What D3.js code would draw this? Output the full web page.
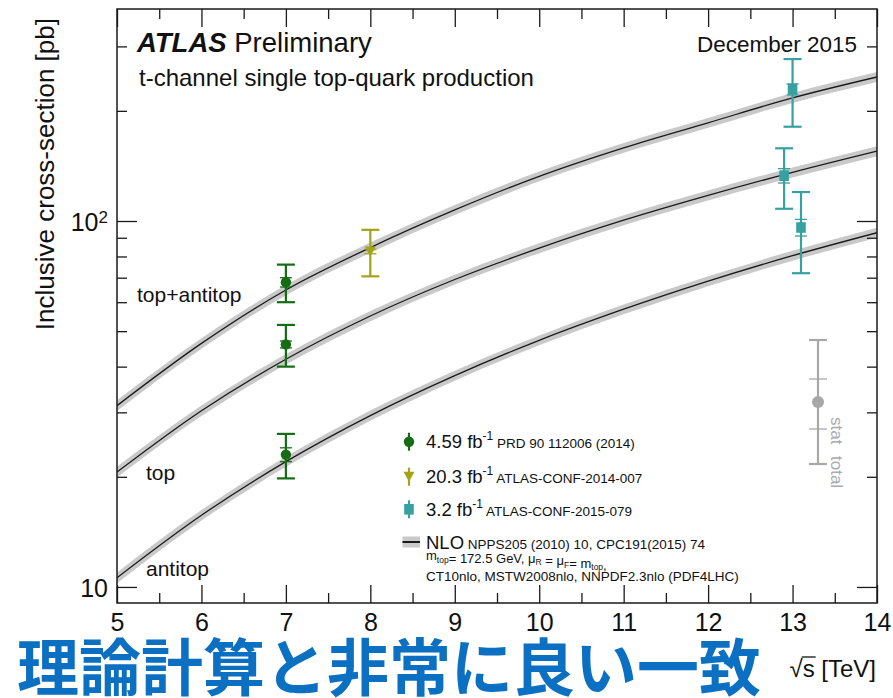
<!DOCTYPE html>
<html><head><meta charset="utf-8">
<script src="https://cdn.jsdelivr.net/npm/d3@7"></script>
<style>
body{margin:0;background:#fff}
svg text{font-family:"Liberation Sans",Arial,Helvetica,sans-serif;fill:#111}
</style></head><body>
<svg id="c" width="893" height="698"></svg>
<script>
// NLO t-channel predictions vs centre-of-mass energy (pb)
const sqrtS = [5, 6, 7, 8, 9, 10, 11, 12, 13, 14];
const nloTopAntitop = [31.3, 46.3, 64.8, 84.6, 107.2, 132.5, 158.5, 185.5, 217.0, 247.5];
const nloTop = [20.6, 30.3, 41.9, 55.0, 69.2, 84.3, 100.5, 117.5, 135.8, 155.2];
const nloAntitop = [10.6, 15.7, 22.0, 29.4, 37.8, 47.2, 57.4, 68.5, 80.4, 92.9];
const nloRelUnc = [0.034, 0.033, 0.032, 0.032, 0.031, 0.031, 0.031, 0.031, 0.031, 0.031];
const curveNames = ["top+antitop", "top", "antitop"];

// ATLAS measurements
const pointEnergy = [7, 7, 7, 8, 13, 12.9, 13.1];
const pointXsec = [68, 46, 23, 82.6, 229, 133, 96];
const pointStat = [2, 1, 1, 1.2, 8, 6, 5];
const pointTotal = [8, 6, 3.2, 12, 48, 25, 24];
const pointDataset = [0, 0, 0, 1, 2, 2, 2];

const datasetLumi = ["4.59", "20.3", " 3.2"];
const datasetRef = ["PRD 90 112006 (2014)", "ATLAS-CONF-2014-007", "ATLAS-CONF-2015-079"];
const datasetColor = ["#146c14", "#a3a31a", "#37a0a0"];
const datasetShape = ["circle", "triangle", "square"];

const xMajorTicks = [5, 6, 7, 8, 9, 10, 11, 12, 13, 14];
const xMinorTicks = [5.5, 6.5, 7.5, 8.5, 9.5, 10.5, 11.5, 12.5, 13.5];
const yMajorTicks = [10, 100];
const yMinorTicks = [20, 30, 40, 50, 60, 70, 80, 90, 200, 300];

const L = 117, R = 877, T = 9, B = 603;
const svg = d3.select("#c");
svg.append("rect").attr("width", 893).attr("height", 698).attr("fill", "#fff");

const x = d3.scaleLinear().domain([5, 14]).range([L, R]);
const y = d3.scaleLog().domain([9.04, 379.6]).range([B, T]);

const plot = svg.append("g");
plot.append("clipPath").attr("id", "clip").append("rect")
  .attr("x", L).attr("y", T).attr("width", R - L).attr("height", B - T);
const inner = plot.append("g").attr("clip-path", "url(#clip)");

// theory bands and central lines
[nloTopAntitop, nloTop, nloAntitop].forEach(vals => {
  const pts = sqrtS.map((s, i) => ({s, v: vals[i], u: nloRelUnc[i]}));
  inner.append("path").datum(pts)
    .attr("d", d3.area().x(d => x(d.s)).y0(d => y(d.v * (1 - d.u))).y1(d => y(d.v * (1 + d.u))).curve(d3.curveMonotoneX))
    .attr("fill", "#c9c9c9");
  inner.append("path").datum(pts)
    .attr("d", d3.line().x(d => x(d.s)).y(d => y(d.v)).curve(d3.curveMonotoneX))
    .attr("fill", "none").attr("stroke", "#1a1a1a").attr("stroke-width", 1.3);
});

// axes with inward ticks
const axisStyle = g => {
  g.selectAll(".domain").remove();
  g.selectAll("line").attr("stroke", "#1a1a1a").attr("stroke-width", 1.3);
  g.selectAll("text").attr("font-size", 25).attr("fill", "#111")
    .attr("font-family", "Liberation Sans, Arial, sans-serif");
};
svg.append("g").attr("transform", `translate(0,${B})`)
  .call(d3.axisBottom(x).tickValues(xMajorTicks).tickSize(-18).tickPadding(10).tickFormat(d3.format("d"))).call(axisStyle);
svg.append("g").attr("transform", `translate(0,${B})`)
  .call(d3.axisBottom(x).tickValues(xMinorTicks).tickSize(-10).tickFormat("")).call(axisStyle);
svg.append("g").attr("transform", `translate(0,${T})`)
  .call(d3.axisTop(x).tickValues(xMajorTicks).tickSize(-18).tickFormat("")).call(axisStyle);
svg.append("g").attr("transform", `translate(0,${T})`)
  .call(d3.axisTop(x).tickValues(xMinorTicks).tickSize(-10).tickFormat("")).call(axisStyle);

const yl = svg.append("g").attr("transform", `translate(${L},0)`)
  .call(d3.axisLeft(y).tickValues(yMajorTicks).tickSize(-20).tickPadding(9).tickFormat(() => "10")).call(axisStyle);
yl.selectAll("text").attr("dy", "0.38em");
yl.selectAll(".tick").filter(d => d === 100).select("text")
  .append("tspan").attr("dy", "-0.45em").attr("font-size", 17).text(String(Math.round(Math.log10(100))));
svg.append("g").attr("transform", `translate(${L},0)`)
  .call(d3.axisLeft(y).tickValues(yMinorTicks).tickSize(-10).tickFormat("")).call(axisStyle);
svg.append("g").attr("transform", `translate(${R},0)`)
  .call(d3.axisRight(y).tickValues(yMajorTicks).tickSize(-20).tickFormat("")).call(axisStyle);
svg.append("g").attr("transform", `translate(${R},0)`)
  .call(d3.axisRight(y).tickValues(yMinorTicks).tickSize(-10).tickFormat("")).call(axisStyle);

svg.append("rect").attr("x", L).attr("y", T).attr("width", R - L).attr("height", B - T)
  .attr("fill", "none").attr("stroke", "#1a1a1a").attr("stroke-width", 1.5);

// marker helper
function marker(g, shape, cx, cy, color) {
  if (shape === "circle") g.append("circle").attr("cx", cx).attr("cy", cy).attr("r", 5.2).attr("fill", color);
  else if (shape === "triangle") g.append("path").attr("d", `M${cx - 5.5},${cy - 5}L${cx + 5.5},${cy - 5}L${cx},${cy + 5}Z`).attr("fill", color);
  else g.append("rect").attr("x", cx - 4.8).attr("y", cy - 5.3).attr("width", 9.6).attr("height", 10.6).attr("fill", color);
}

// measurements with stat and total error bars
const pts = svg.append("g");
pointEnergy.forEach((e, i) => {
  const c = datasetColor[pointDataset[i]];
  const cx = x(e), v = pointXsec[i];
  const yt = y(v + pointTotal[i]), yb = y(v - pointTotal[i]);
  const st = y(v + pointStat[i]), sb = y(v - pointStat[i]);
  const g = pts.append("g").attr("stroke", c).attr("stroke-width", 2.2);
  g.append("line").attr("x1", cx).attr("x2", cx).attr("y1", yt).attr("y2", yb);
  [yt, yb].forEach(yy => g.append("line").attr("x1", cx - 9).attr("x2", cx + 9).attr("y1", yy).attr("y2", yy));
  [st, sb].forEach(yy => g.append("line").attr("x1", cx - 6).attr("x2", cx + 6).attr("y1", yy).attr("y2", yy).attr("stroke-width", 1.3));
  marker(pts, datasetShape[pointDataset[i]], cx, y(v), c);
});

// curve labels
const curveLabelPos = [[137, 302], [146, 480], [146, 576]];
curveNames.forEach((n, i) => svg.append("text").attr("x", curveLabelPos[i][0]).attr("y", curveLabelPos[i][1])
  .attr("font-size", 21).text(n));

// header texts
const h = svg.append("text").attr("x", 137).attr("y", 52).attr("font-size", 27.5);
h.append("tspan").attr("font-weight", "bold").attr("font-style", "italic").text("ATLAS");
h.append("tspan").text(" Preliminary");
svg.append("text").attr("x", 857).attr("y", 52).attr("text-anchor", "end").attr("font-size", 22.5).text("December 2015");
svg.append("text").attr("x", 139).attr("y", 86).attr("font-size", 24).text("t-channel single top-quark production");

// axis titles
svg.append("text").attr("transform", "translate(54,18) rotate(-90)").attr("text-anchor", "end")
  .attr("font-size", 26).text("Inclusive cross-section [pb]");
const xt = svg.append("text").attr("x", 876).attr("y", 677).attr("text-anchor", "end").attr("font-size", 24);
xt.append("tspan").text("√s");
xt.append("tspan").text(" [TeV]");
{
  const node = xt.node();
  const s0 = node.getStartPositionOfChar(1), s1 = node.getEndPositionOfChar(1);
  svg.append("line").attr("x1", s0.x - 1).attr("x2", s1.x + 1).attr("y1", 657).attr("y2", 657)
    .attr("stroke", "#111").attr("stroke-width", 1.3);
}

// legend
const lg = svg.append("g");
const legY = [441.7, 476.7, 509.3];
datasetLumi.forEach((lum, i) => {
  const c = datasetColor[i], cy = legY[i];
  lg.append("line").attr("x1", 409).attr("x2", 409).attr("y1", cy - 9).attr("y2", cy + 9)
    .attr("stroke", c).attr("stroke-width", 2.2);
  marker(lg, datasetShape[i], 409, cy, c);
  const t = lg.append("text").attr("x", 426).attr("y", cy + 6.5).attr("font-size", 18.5);
  t.append("tspan").text(lum + " fb");
  t.append("tspan").attr("dy", -8).attr("font-size", 12).text("-1");
  t.append("tspan").attr("dy", 8).attr("font-size", 13.5).text(" " + datasetRef[i]);
});
lg.append("rect").attr("x", 402.5).attr("y", 536.5).attr("width", 17.5).attr("height", 11).attr("fill", "#c9c9c9");
lg.append("line").attr("x1", 402.5).attr("x2", 420).attr("y1", 542).attr("y2", 542).attr("stroke", "#1a1a1a").attr("stroke-width", 2);
const nl = lg.append("text").attr("x", 426).attr("y", 548.5).attr("font-size", 18.5);
nl.append("tspan").text("NLO");
nl.append("tspan").attr("font-size", 13.5).text(" NPPS205 (2010) 10, CPC191(2015) 74");
const l2 = lg.append("text").attr("x", 426).attr("y", 560).attr("font-size", 13);
const sub = (txt) => { l2.append("tspan").attr("dy", 2.5).attr("font-size", 8.5).text(txt); l2.append("tspan").attr("dy", -2.5).text(""); };
l2.append("tspan").text("m"); sub("top");
l2.append("tspan").text("= 172.5 GeV, μ"); sub("R");
l2.append("tspan").text(" = μ"); sub("F");
l2.append("tspan").text("= m"); sub("top");
l2.append("tspan").text(",");
lg.append("text").attr("x", 426).attr("y", 581).attr("font-size", 13.5).text("CT10nlo, MSTW2008nlo, NNPDF2.3nlo (PDF4LHC)");

// stat / total key
const kg = svg.append("g").attr("stroke", "#a8a8a8").attr("stroke-width", 2.2);
const kx = 818, ky = 402;
kg.append("line").attr("x1", kx).attr("x2", kx).attr("y1", ky - 62).attr("y2", ky + 62);
[ky - 62, ky + 62].forEach(yy => kg.append("line").attr("x1", kx - 9).attr("x2", kx + 9).attr("y1", yy).attr("y2", yy));
[ky - 23, ky + 27].forEach(yy => kg.append("line").attr("x1", kx - 9).attr("x2", kx + 9).attr("y1", yy).attr("y2", yy).attr("stroke-width", 1.3));
svg.append("circle").attr("cx", kx).attr("cy", ky).attr("r", 6).attr("fill", "#a8a8a8");
svg.append("text").attr("transform", "translate(831,417) rotate(90)").attr("font-size", 17).style("fill", "#aaa").text("stat");
svg.append("text").attr("transform", "translate(831,456) rotate(90)").attr("font-size", 17).style("fill", "#aaa").text("total");

// caption
svg.append("text").attr("x", 17).attr("y", 691).attr("font-size", 62).attr("font-weight", "bold")
  .style("font-family", "'Noto Sans CJK JP', sans-serif").style("fill", "#0b70c1")
  .text("理論計算と非常に良い一致");
</script></body></html>
